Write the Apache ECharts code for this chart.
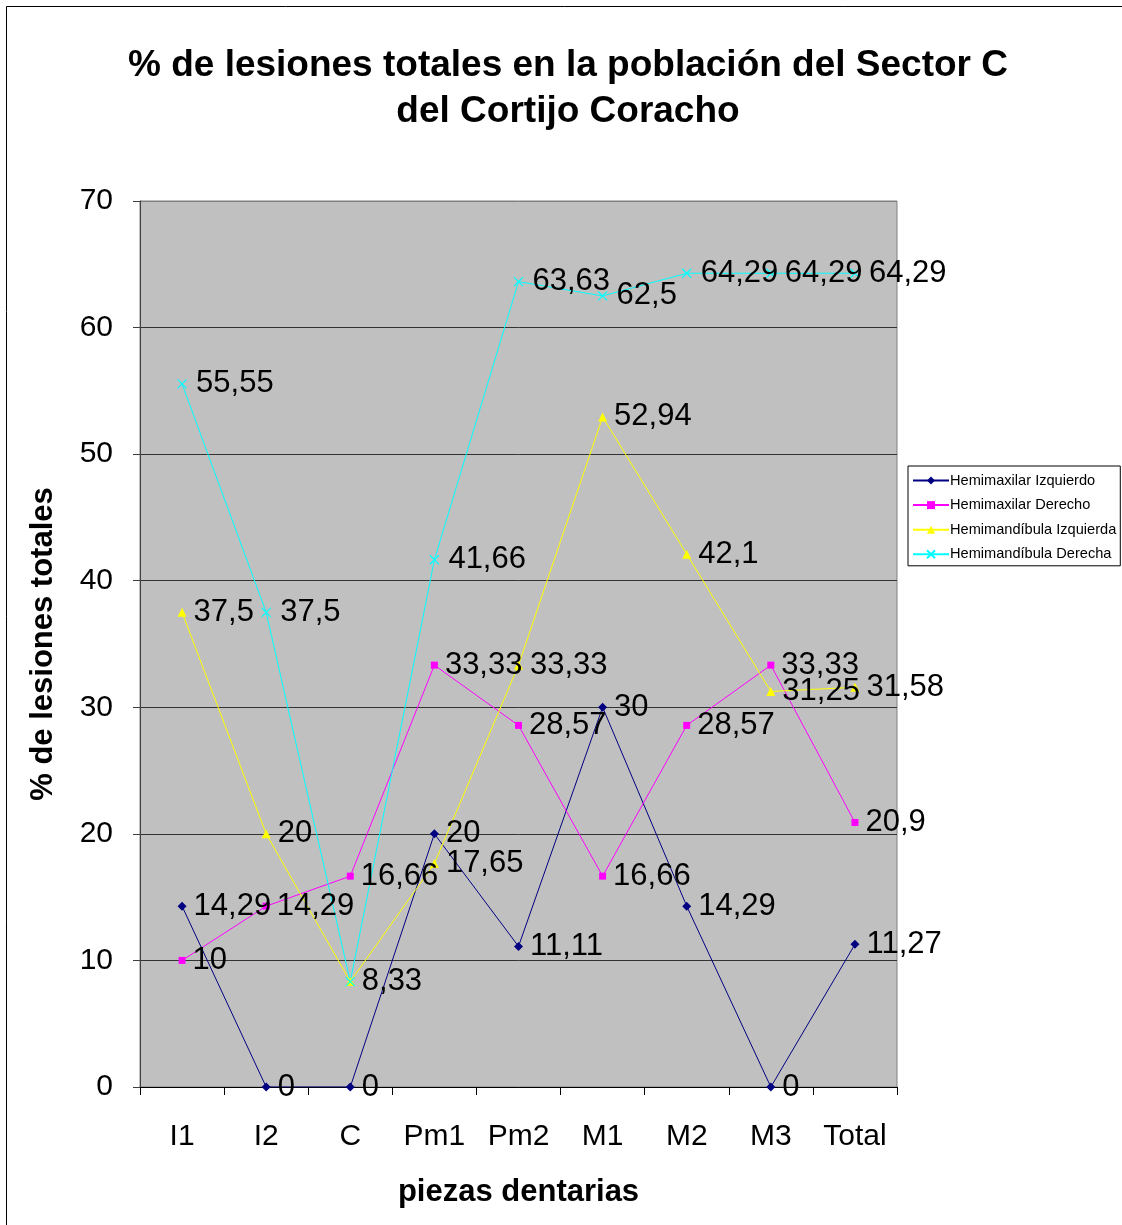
<!DOCTYPE html>
<html>
<head>
<meta charset="utf-8">
<script src="https://cdn.jsdelivr.net/npm/echarts@6/dist/echarts.min.js"></script>
<style>
  html, body { margin: 0; padding: 0; background: #fff; }
  #chart { width: 1122px; height: 1225px; }
</style>
</head>
<body>
<div id="chart"></div>
<script>
// Tooth groups along the x axis
const categories = ['I1', 'I2', 'C', 'Pm1', 'Pm2', 'M1', 'M2', 'M3', 'Total'];

// Percentage of lesions per jaw side
const hemimaxilarIzquierdo = [14.29, 0, 0, 20, 11.11, 30, 14.29, 0, 11.27];
const hemimaxilarDerecho = [10, 14.29, 16.66, 33.33, 28.57, 16.66, 28.57, 33.33, 20.9];
const hemimandibulaIzquierda = [37.5, 20, 8.33, 17.65, 33.33, 52.94, 42.1, 31.25, 31.58];
const hemimandibulaDerecha = [55.55, 37.5, 8.33, 41.66, 63.63, 62.5, 64.29, 64.29, 64.29];

const yTicks = [0, 10, 20, 30, 40, 50, 60, 70];

const FONT = '"Liberation Sans", Arial, sans-serif';

const chart = echarts.init(document.getElementById('chart'), null, { renderer: 'canvas' });

const label = {
  show: true,
  position: 'right',
  distance: 7,
  color: '#000',
  fontFamily: FONT,
  fontSize: 31,
  formatter: p => String(p.value).replace('.', ',')
};

// Skip a label when an earlier series already prints the same value at that category
function dedupe(values, earlier) {
  return values.map((v, i) => earlier.some(arr => arr[i] === v)
    ? { value: v, label: { show: false } }
    : v);
}

function lineSeries(name, data, color, symbol, size, extra) {
  return Object.assign({
    name: name,
    type: 'line',
    data: data,
    symbol: symbol,
    symbolSize: size,
    showAllSymbol: true,
    lineStyle: { color: color, width: 1 },
    itemStyle: { color: color },
    label: label,
    emphasis: { disabled: true },
    animation: false
  }, extra || {});
}

chart.setOption({
  backgroundColor: '#fff',
  animation: false,
  title: {
    text: '% de lesiones totales en la población del Sector C\ndel Cortijo Coracho',
    left: 563,
    top: 38,
    textAlign: 'center',
    textStyle: {
      fontFamily: FONT,
      fontWeight: 'bold',
      fontSize: 37,
      lineHeight: 46,
      color: '#000'
    }
  },
  legend: {
    orient: 'vertical',
    left: 908,
    top: 466,
    itemWidth: 36,
    itemHeight: 10,
    itemGap: 9.6,
    padding: [7, 4, 4, 4],
    backgroundColor: '#fff',
    borderColor: '#000',
    borderWidth: 1,
    borderRadius: 0,
    textStyle: { fontFamily: FONT, fontSize: 14.6, color: '#000', padding: [0, 0, 0, -4] },
    data: ['Hemimaxilar Izquierdo', 'Hemimaxilar Derecho', 'Hemimandíbula Izquierda', 'Hemimandíbula Derecha']
  },
  grid: {
    left: 140,
    right: 225,
    top: 201,
    bottom: 138,
    show: true,
    backgroundColor: '#C0C0C0',
    borderColor: '#808080',
    borderWidth: 1
  },
  xAxis: {
    type: 'category',
    data: categories,
    boundaryGap: true,
    name: 'piezas dentarias',
    nameLocation: 'middle',
    nameGap: 90,
    nameTextStyle: { fontFamily: FONT, fontWeight: 'bold', fontSize: 31, color: '#000' },
    axisLine: { lineStyle: { color: '#000', width: 1 } },
    axisTick: { show: true, length: 8, interval: 0, lineStyle: { color: '#000' } },
    axisLabel: { fontFamily: FONT, fontSize: 30, color: '#000', margin: 35, interval: 0 },
    splitLine: { show: false }
  },
  yAxis: {
    type: 'value',
    min: yTicks[0],
    max: yTicks[yTicks.length - 1],
    interval: 10,
    name: '% de lesiones totales',
    nameLocation: 'middle',
    nameGap: 81,
    nameRotate: 90,
    nameTextStyle: { fontFamily: FONT, fontWeight: 'bold', fontSize: 31, color: '#000' },
    axisLine: { show: true, lineStyle: { color: '#404040', width: 1 } },
    axisTick: { show: true, length: 7, lineStyle: { color: '#404040' } },
    axisLabel: { fontFamily: FONT, fontSize: 30, color: '#000', margin: 27 },
    splitLine: {
      show: true,
      lineStyle: { color: ['#333', '#333', '#333', '#333', '#333', '#333', '#333', '#808080'], width: 1 }
    }
  },
  graphic: [{
    type: 'rect',
    shape: { x: 6.5, y: 6.5, width: 1300, height: 1400 },
    style: { fill: null, stroke: '#000', lineWidth: 1 },
    silent: true,
    z: 100
  }],
  series: [
    lineSeries('Hemimaxilar Izquierdo', hemimaxilarIzquierdo, '#000080', 'diamond', 9),
    lineSeries('Hemimaxilar Derecho', hemimaxilarDerecho, '#FF00FF', 'rect', 7),
    lineSeries('Hemimandíbula Izquierda', hemimandibulaIzquierda, '#FFFF00', 'triangle', 9),
    lineSeries('Hemimandíbula Derecha',
      dedupe(hemimandibulaDerecha, [hemimaxilarIzquierdo, hemimaxilarDerecho, hemimandibulaIzquierda]),
      '#00FFFF', 'path://M0,0L10,10M10,0L0,10', 9,
      { itemStyle: { color: 'none', borderColor: '#00FFFF', borderWidth: 1.2 } })
  ]
});
</script>
</body>
</html>
